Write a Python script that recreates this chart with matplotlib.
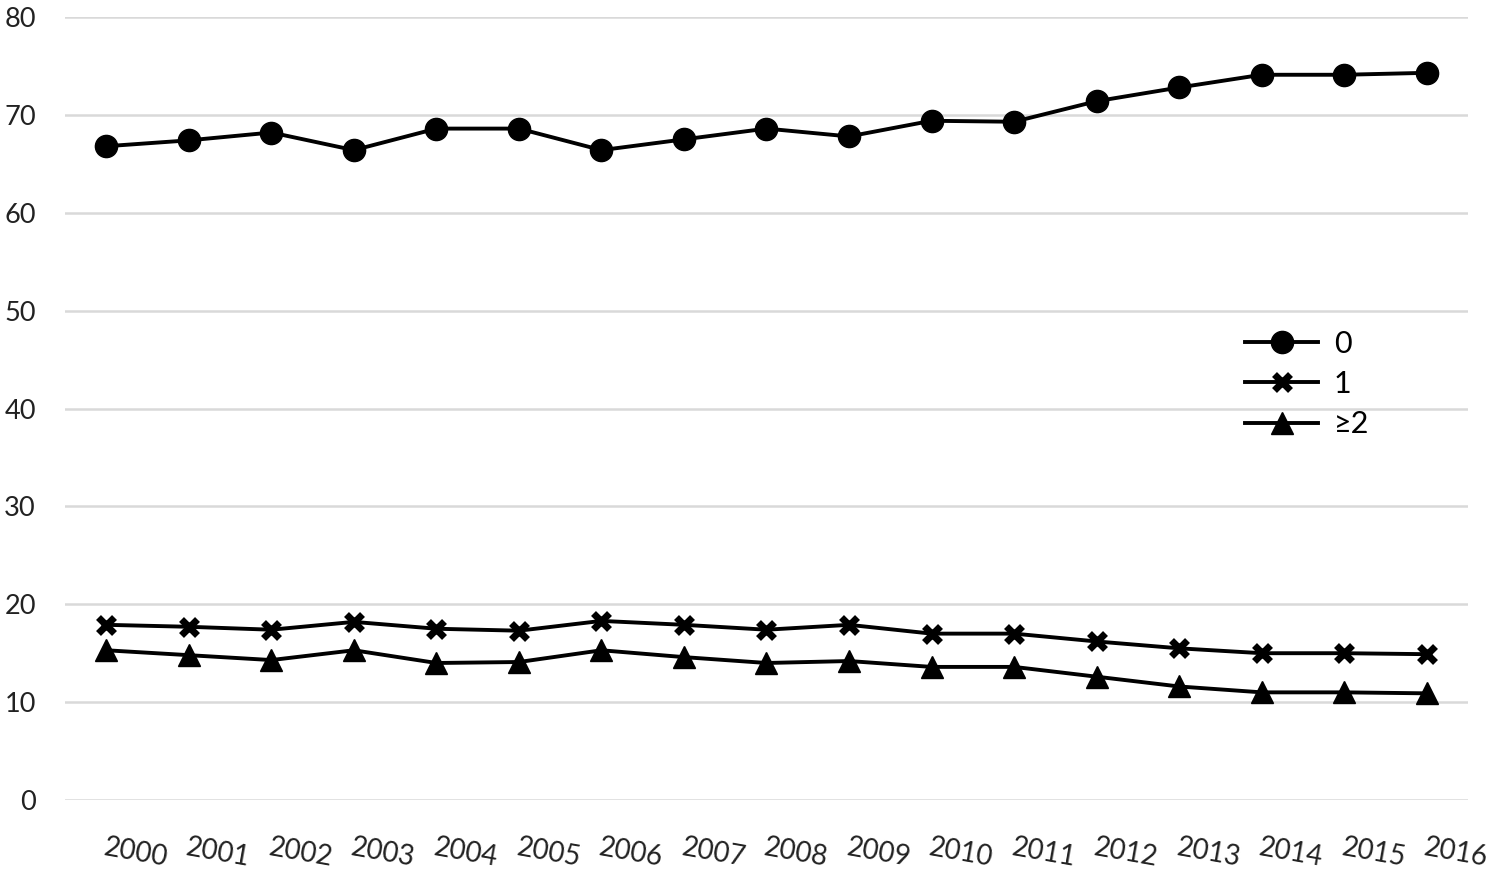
import matplotlib.pyplot as plt

years = [str(y) for y in range(2000, 2017)]
zero = [66.8, 67.4, 68.2, 66.4, 68.6, 68.6, 66.4, 67.5, 68.6, 67.8, 69.4, 69.3, 71.4, 72.8, 74.1, 74.1, 74.3]
one = [17.9, 17.7, 17.4, 18.2, 17.5, 17.3, 18.3, 17.9, 17.4, 17.9, 17.0, 17.0, 16.2, 15.5, 15.0, 15.0, 14.9]
two_plus = [15.3, 14.8, 14.3, 15.3, 14.0, 14.1, 15.3, 14.6, 14.0, 14.2, 13.6, 13.6, 12.6, 11.6, 11.0, 11.0, 10.9]
labels = ['0', '1', '\u22652']

plt.rcParams['font.family'] = ['Lato', 'DejaVu Sans']

fig = plt.figure(figsize=(14.94, 8.73), dpi=100)
ax = fig.add_axes([0.0435, 0.0836, 0.9391, 0.8969])

x = list(range(len(years)))
ax.plot(x, zero, color='black', lw=2.8, marker='o', ms=16, label=labels[0])
ax.plot(x, one, color='black', lw=2.8, marker='x', ms=12, mew=5, label=labels[1])
ax.plot(x, two_plus, color='black', lw=2.8, marker='^', ms=16, label=labels[2])

ax.set_xlim(-0.5, len(years) - 0.5)
ax.set_ylim(0, 80)
ax.set_yticks(range(0, 81, 10))
ax.set_xticks(x)
ax.set_xticklabels(years, rotation=-10, ha='left', rotation_mode='anchor', fontsize=20, color='#222222')
ax.tick_params(axis='x', length=0, pad=25)
ax.tick_params(axis='y', length=0, pad=21, labelsize=19.5, labelcolor='#222222')
ax.grid(True, axis='y', color='#d9d9d9', lw=1.8)
ax.set_axisbelow(True)
for s in ax.spines.values():
    s.set_visible(False)

ax.legend(loc='center left', bbox_to_anchor=(0.815, 0.56), bbox_transform=fig.transFigure,
          frameon=False, fontsize=22, handlelength=2.4, labelspacing=0.4, handletextpad=0.5)

fig.savefig('out.png', dpi=100)
